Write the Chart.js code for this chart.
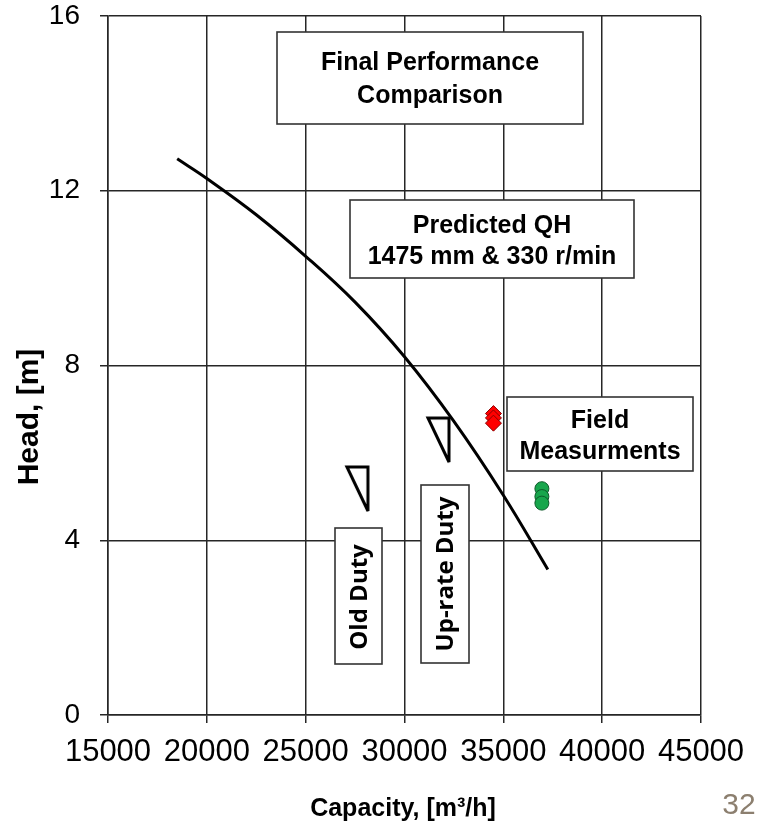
<!DOCTYPE html>
<html><head><meta charset="utf-8">
<script src="https://cdn.jsdelivr.net/npm/chart.js@4.4.0/dist/chart.umd.min.js"></script>
<style>html,body{margin:0;padding:0;background:#fff;}#wrap{width:763px;height:827px;}</style>
</head><body><div id="wrap"><canvas id="c" width="763" height="827"></canvas></div>
<script>
// ---- data ----
const xTickValues = [15000, 20000, 25000, 30000, 35000, 40000, 45000];
const yTickValues = [0, 4, 8, 12, 16];
const curveQ = [18500, 20000, 22500, 25000, 27500, 30000, 32500, 35000, 37250];
const curveH = [12.73, 12.28, 11.45, 10.5, 9.45, 8.2, 6.72, 5.03, 3.33];
const redQ = [34500, 34500, 34500];
const redH = [6.9, 6.8, 6.68];
const greenQ = [36950, 36950, 36950];
const greenH = [5.18, 5.0, 4.85];
const dutyQ = [28150, 32250];
const dutyH = [4.67, 5.79];

const xTitle = 'Capacity, [m³/h]';
const yTitle = 'Head, [m]';
const pageNumber = '32';

const toPts = (xs, ys) => xs.map((x, i) => ({x: x, y: ys[i]}));

// triangle marker, tip at the data point
function triangleMarker() {
  const w = 21, h = 44, m = 4;
  const c = document.createElement('canvas');
  c.width = 2 * (w + m); c.height = 2 * (h + m);
  const g = c.getContext('2d');
  const cx = c.width / 2, cy = c.height / 2;
  g.beginPath();
  g.moveTo(cx - w, cy - h);
  g.lineTo(cx, cy - h);
  g.lineTo(cx, cy);
  g.closePath();
  g.lineWidth = 3;
  g.lineJoin = 'miter';
  g.miterLimit = 3;
  g.strokeStyle = '#000';
  g.stroke();
  return c;
}

// annotation boxes (pixel layout)
const boxes = [
  {x: 277, y: 32, w: 306, h: 92, lines: ['Final Performance', 'Comparison'], cx: 430, base: [70, 103], font: 'bold 25px "Liberation Sans", Arial, sans-serif'},
  {x: 350, y: 200, w: 284, h: 78, lines: ['Predicted QH', '1475 mm & 330 r/min'], cx: 492, base: [233, 264], font: 'bold 25px "Liberation Sans", Arial, sans-serif'},
  {x: 507, y: 397, w: 186, h: 74, lines: ['Field', 'Measurments'], cx: 600, base: [428, 458.5], font: 'bold 25px "Liberation Sans", Arial, sans-serif'},
  {x: 335, y: 528, w: 47, h: 136, rot: 'Old Duty', bx: 367, cy: 597, font: 'bold 24px "Open Sans", sans-serif'},
  {x: 421, y: 485, w: 48, h: 178, rot: 'Up-rate Duty', bx: 453, cy: 574, font: 'bold 24px "Open Sans", sans-serif'}
];

const decor = {
  id: 'decor',
  beforeDatasetsDraw(chart) {
    const ctx = chart.ctx;
    ctx.save();
    boxes.forEach(b => {
      ctx.fillStyle = '#fff';
      ctx.fillRect(b.x, b.y, b.w, b.h);
      ctx.strokeStyle = '#333';
      ctx.lineWidth = 1.6;
      ctx.strokeRect(b.x, b.y, b.w, b.h);
      ctx.fillStyle = '#000';
      ctx.font = b.font;
      if (b.lines) {
        ctx.textAlign = 'center';
        ctx.textBaseline = 'alphabetic';
        b.lines.forEach((t, i) => ctx.fillText(t, b.cx, b.base[i]));
      } else {
        ctx.save();
        ctx.translate(b.bx, b.cy);
        ctx.rotate(-Math.PI / 2);
        ctx.textAlign = 'center';
        ctx.textBaseline = 'alphabetic';
        ctx.fillText(b.rot, 0, 0);
        ctx.restore();
      }
    });
    ctx.restore();
  },
  afterDraw(chart) {
    const ctx = chart.ctx;
    ctx.save();
    ctx.fillStyle = '#000';
    ctx.font = 'bold 30px "Liberation Sans", Arial, sans-serif';
    ctx.textAlign = 'center';
    ctx.textBaseline = 'alphabetic';
    ctx.save();
    ctx.translate(38, 417);
    ctx.rotate(-Math.PI / 2);
    ctx.fillText(yTitle, 0, 0);
    ctx.restore();
    ctx.font = 'bold 25px "Liberation Sans", Arial, sans-serif';
    ctx.fillText(xTitle, 403, 816);
    ctx.font = '30px "Liberation Sans", Arial, sans-serif';
    ctx.fillStyle = '#8c7f6f';
    ctx.fillText(pageNumber, 739, 814);
    ctx.restore();
  }
};

const gridColor = '#262626';

new Chart(document.getElementById('c'), {
  type: 'scatter',
  data: {
    datasets: [
      {data: toPts(dutyQ, dutyH), pointStyle: triangleMarker(), pointRadius: 5, showLine: false},
      {data: toPts(greenQ, greenH), pointStyle: 'circle', pointRadius: 7, backgroundColor: '#18a64c', borderColor: '#0e5a2a', borderWidth: 1, showLine: false},
      {data: toPts(redQ, redH), pointStyle: 'rectRot', pointRadius: 8, backgroundColor: '#ff0000', borderColor: '#8a0000', borderWidth: 1, showLine: false},
      {data: toPts(curveQ, curveH), showLine: true, borderColor: '#000', borderWidth: 3, pointRadius: 0, tension: 0.4, fill: false}
    ]
  },
  options: {
    responsive: false,
    animation: false,
    devicePixelRatio: 1,
    layout: {padding: {left: 0, right: 62, top: 16, bottom: 0}},
    plugins: {legend: {display: false}, tooltip: {enabled: false}},
    events: [],
    scales: {
      x: {
        type: 'linear', min: 15000, max: 45000,
        afterBuildTicks: s => { s.ticks = xTickValues.map(v => ({value: v})); },
        afterFit: s => { s.height = 112; s.paddingLeft = 0; s.paddingRight = 0; },
        ticks: {color: '#000', padding: 11, maxRotation: 0, autoSkip: false, font: {family: '"Liberation Sans", Arial, sans-serif', size: 31}, callback: v => String(v)},
        grid: {color: gridColor, lineWidth: 1.5, tickLength: 8, drawTicks: true},
        border: {color: gridColor, width: 1.5}
      },
      y: {
        type: 'linear', min: 0, max: 16,
        afterBuildTicks: s => { s.ticks = yTickValues.map(v => ({value: v})); },
        afterFit: s => { s.width = 108; s.paddingTop = 0; s.paddingBottom = 0; },
        ticks: {color: '#000', padding: 20, font: {family: '"Liberation Sans", Arial, sans-serif', size: 28}, callback: v => String(v)},
        grid: {color: gridColor, lineWidth: 1.5, tickLength: 8, drawTicks: true},
        border: {color: gridColor, width: 1.5}
      }
    }
  },
  plugins: [decor]
});
</script>
</body></html>
